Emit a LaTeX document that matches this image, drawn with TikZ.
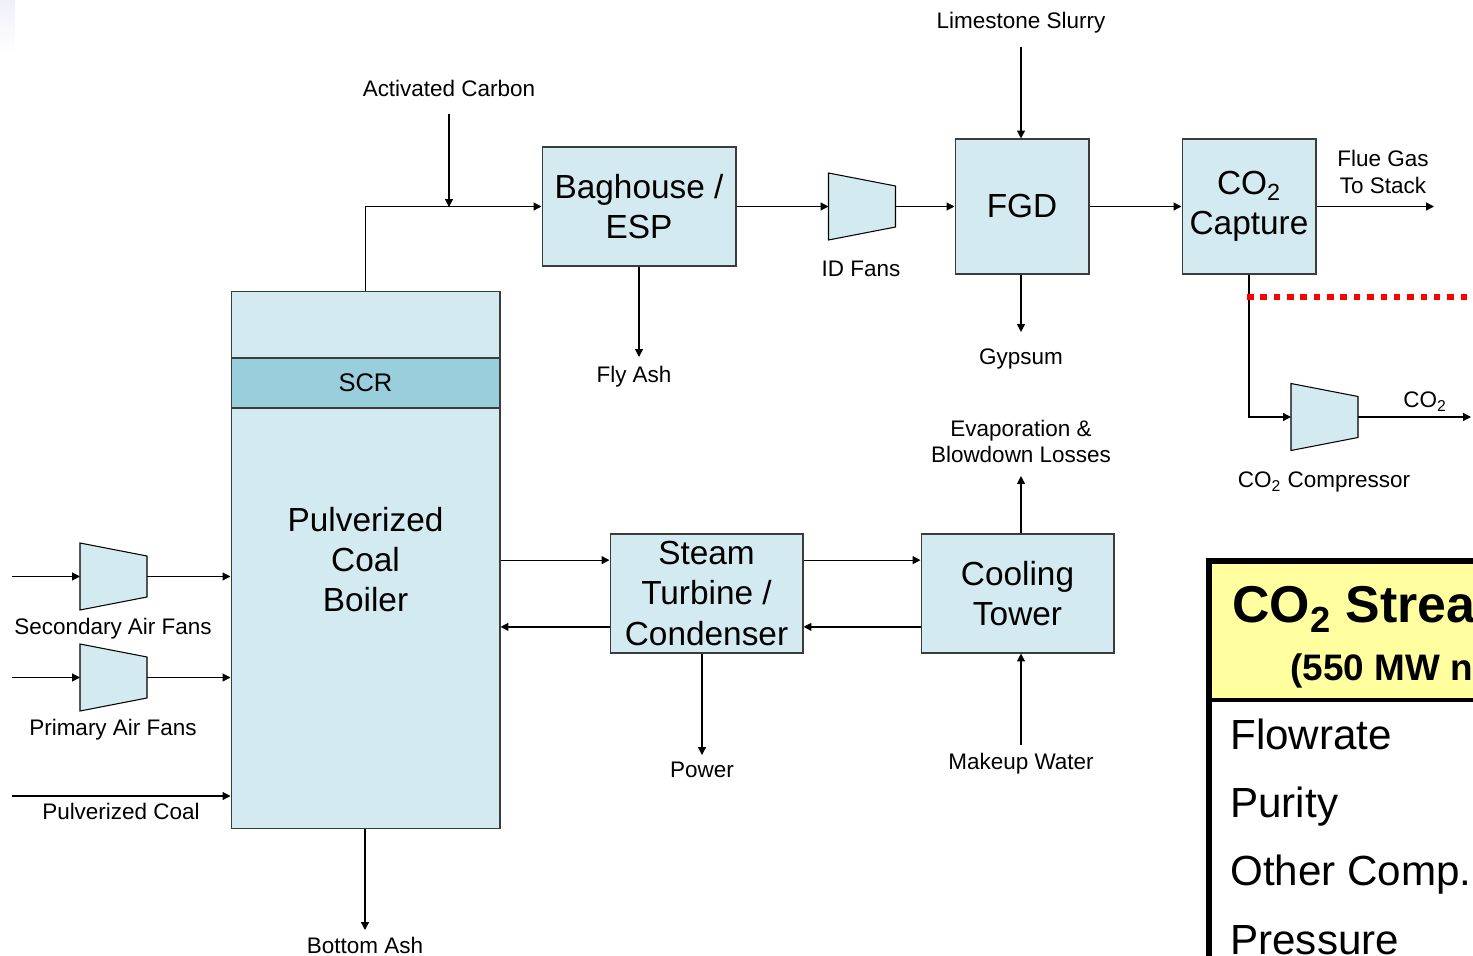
\documentclass[tikz,border=0pt]{standalone}
\usepackage{fontspec}
\setmainfont{Liberation Sans}
\usetikzlibrary{arrows.meta}

\definecolor{unitblue}{RGB}{210,234,240}
\definecolor{scrblue}{RGB}{153,207,221}
\definecolor{headyellow}{RGB}{255,255,160}
\definecolor{edgegray}{RGB}{60,60,60}
\definecolor{cornertint}{RGB}{240,240,250}

\newcommand{\labelfont}{\fontsize{12.8}{15}\selectfont}
\newcommand{\unitfont}{\fontsize{19}{22.8}\selectfont}
\newcommand{\rowfont}{\fontsize{24}{28}\selectfont}
\newcommand{\cotwo}{CO\textsubscript{2}}

\begin{document}
\begin{tikzpicture}[x=0.02cm, y=-0.02cm, line join=miter,
  >={Triangle[length=4.5pt, width=4.5pt]},
  flow/.style={->, line width=0.7pt},
  unit/.style={draw=edgegray, fill=unitblue, line width=0.6pt, align=center,
    font=\unitfont, inner sep=0pt},
  lbl/.style={font=\labelfont, align=center, inner sep=0pt, text depth=0pt},
  rowtext/.style={anchor=base west, font=\rowfont, inner sep=0pt},
  fan/.pic={
    \filldraw[fill=unitblue, draw=black, line width=0.6pt]
      (-33.5,-33.5) -- (33.5,-20.5) -- (33.5,20.5) -- (-33.5,33.5) -- cycle;
    \coordinate (-in)  at (-33.5,0);
    \coordinate (-out) at (33.5,0);
  }]

  \useasboundingbox (0,0) rectangle (1473,956);

  % ── Corner tint ──────────────────────────────────────────────────────────────
  \shade[top color=cornertint, bottom color=white] (0,0) rectangle (15,55);

  % ── Units ────────────────────────────────────────────────────────────────────
  \node[unit, minimum width=5.38cm, minimum height=10.76cm] (boiler) at (365.5,560)
    {Pulverized\\Coal\\Boiler};
  \node[unit, fill=scrblue, minimum width=5.38cm, minimum height=1.0cm,
    font=\fontsize{14.5}{17}\selectfont] (scr) at (365.5,383) {SCR};
  \node[unit, minimum width=3.88cm, minimum height=2.38cm] (bag) at (639,206.5)
    {Baghouse /\\ESP};
  \node[unit, minimum width=2.68cm, minimum height=2.70cm] (fgd) at (1022,206.5) {FGD};
  \node[unit, minimum width=2.68cm, minimum height=2.70cm] (cap) at (1249,206.5)
    {\cotwo\\Capture};
  \node[unit, minimum width=3.86cm, minimum height=2.38cm] (turb) at (706.5,593.5)
    {Steam\\Turbine /\\Condenser};
  \node[unit, minimum width=3.86cm, minimum height=2.38cm] (cool) at (1017.5,593.5)
    {Cooling\\Tower};

  % Fans
  \pic (idfan) at (862,206.5)   {fan};
  \pic (safan) at (113.5,576.5) {fan};
  \pic (pafan) at (113.5,677.5) {fan};
  \pic (cofan) at (1324.5,417)  {fan};

  % ── Labels ───────────────────────────────────────────────────────────────────
  \node[lbl] (actc)   at (449,88)     {Activated Carbon};
  \node[lbl] (lime)   at (1021,20)    {Limestone Slurry};
  \node[lbl] (gyp)    at (1021,357)   {Gypsum};
  \node[lbl] (flyash) at (634,374)    {Fly Ash};
  \node[lbl] (idlbl)  at (861,269)    {ID Fans};
  \node[lbl] (stack)  at (1383,172)   {Flue Gas\\To Stack};
  \node[lbl] (colbl)  at (1425,400)   {\cotwo};
  \node[lbl] (cocomp) at (1324,480)   {\cotwo{} Compressor};
  \node[lbl] (evap)   at (1021,441.5) {Evaporation \&\\Blowdown Losses};
  \node[lbl] (mkup)   at (1021,761)   {Makeup Water};
  \node[lbl] (power)  at (702,770)    {Power};
  \node[lbl] (btash)  at (365,945)    {Bottom Ash};
  \node[lbl] (salbl)  at (113,626)    {Secondary Air Fans};
  \node[lbl] (palbl)  at (113,727)    {Primary Air Fans};
  \node[lbl] (pclbl)  at (121,811)    {Pulverized Coal};

  % Free ends
  \coordinate (actin)    at (449,114);
  \coordinate (junc)     at (449,207);
  \coordinate (limein)   at (1021,47);
  \coordinate (gypout)   at (1021,332);
  \coordinate (flyout)   at (639,357);
  \coordinate (stackout) at (1434,207);
  \coordinate (coout)    at (1471,417);
  \coordinate (evapout)  at (1021,476);
  \coordinate (mkin)     at (1021,745);
  \coordinate (powout)   at (702,755);
  \coordinate (ashout)   at (365,930);
  \coordinate (sain)     at (12,576.5);
  \coordinate (pain)     at (12,677.5);
  \coordinate (pcin)     at (12,796);
  \coordinate (dotl)     at (1247,297);
  \coordinate (dotr)     at (1473,297);

  % ── Flue gas path ────────────────────────────────────────────────────────────
  \draw[flow] (boiler.north) |- (bag.west);
  \draw[flow] (actin) -- (junc);
  \draw[flow] (bag.east) -- (idfan-in);
  \draw[flow] (idfan-out) -- (fgd.west);
  \draw[flow] (fgd.east) -- (cap.west);
  \draw[flow] (cap.east) -- (cap.east -| stackout);
  \draw[flow] (bag.south -| flyout) -- (flyout);
  \draw[flow] (limein) -- (limein |- fgd.north);
  \draw[flow] (fgd.south -| gypout) -- (gypout);

  % CO2 to compressor
  \draw[flow] (cap.south) |- (cofan-in);
  \draw[flow] (cofan-out) -- (coout);
  \draw[red, line width=3.7pt, dash pattern=on 3.7pt off 3.9pt] (dotl) -- (dotr);

  % ── Boiler feeds ─────────────────────────────────────────────────────────────
  \draw[flow] (sain) -- (safan-in);
  \draw[flow] (safan-out) -- (safan-out -| boiler.west);
  \draw[flow] (pain) -- (pafan-in);
  \draw[flow] (pafan-out) -- (pafan-out -| boiler.west);
  \draw[flow] (pcin) -- (pcin -| boiler.west);
  \draw[flow] (boiler.south -| ashout) -- (ashout);

  % ── Steam cycle ──────────────────────────────────────────────────────────────
  \draw[flow] ([yshift=19pt]turb.west -| boiler.east) -- ([yshift=19pt]turb.west);
  \draw[flow] ([yshift=-19pt]turb.west) -- ([yshift=-19pt]turb.west -| boiler.east);
  \draw[flow] ([yshift=19pt]turb.east) -- ([yshift=19pt]turb.east -| cool.west);
  \draw[flow] ([yshift=-19pt]cool.west) -- ([yshift=-19pt]cool.west -| turb.east);
  \draw[flow] (turb.south -| powout) -- (powout);
  \draw[flow] (cool.north -| evapout) -- (evapout);
  \draw[flow] (mkin) -- (mkin |- cool.south);

  % ── CO2 stream table ─────────────────────────────────────────────────────────
  \fill[headyellow] (1209,561) rectangle (1473,700);
  \draw[line width=1.9pt] (1209,700) -- (1473,700);
  \draw[line width=3.2pt] (1209,960) -- (1209,561) -- (1476,561);
  \node[rowtext, font=\fontsize{29.5}{33}\selectfont\bfseries] (sthead) at (1232,622)
    {\cotwo{} Strea};
  \node[rowtext, font=\fontsize{21}{25}\selectfont\bfseries] (stsub) at (1290,680)
    {(550 MW n};
  \node[rowtext] (rowflow)  at (1230,749) {Flowrate};
  \node[rowtext] (rowpure)  at (1230,817) {Purity};
  \node[rowtext] (rowother) at (1230,885) {Other Comp.};
  \node[rowtext] (rowpress) at (1230,954) {Pressure};

\end{tikzpicture}
\end{document}
